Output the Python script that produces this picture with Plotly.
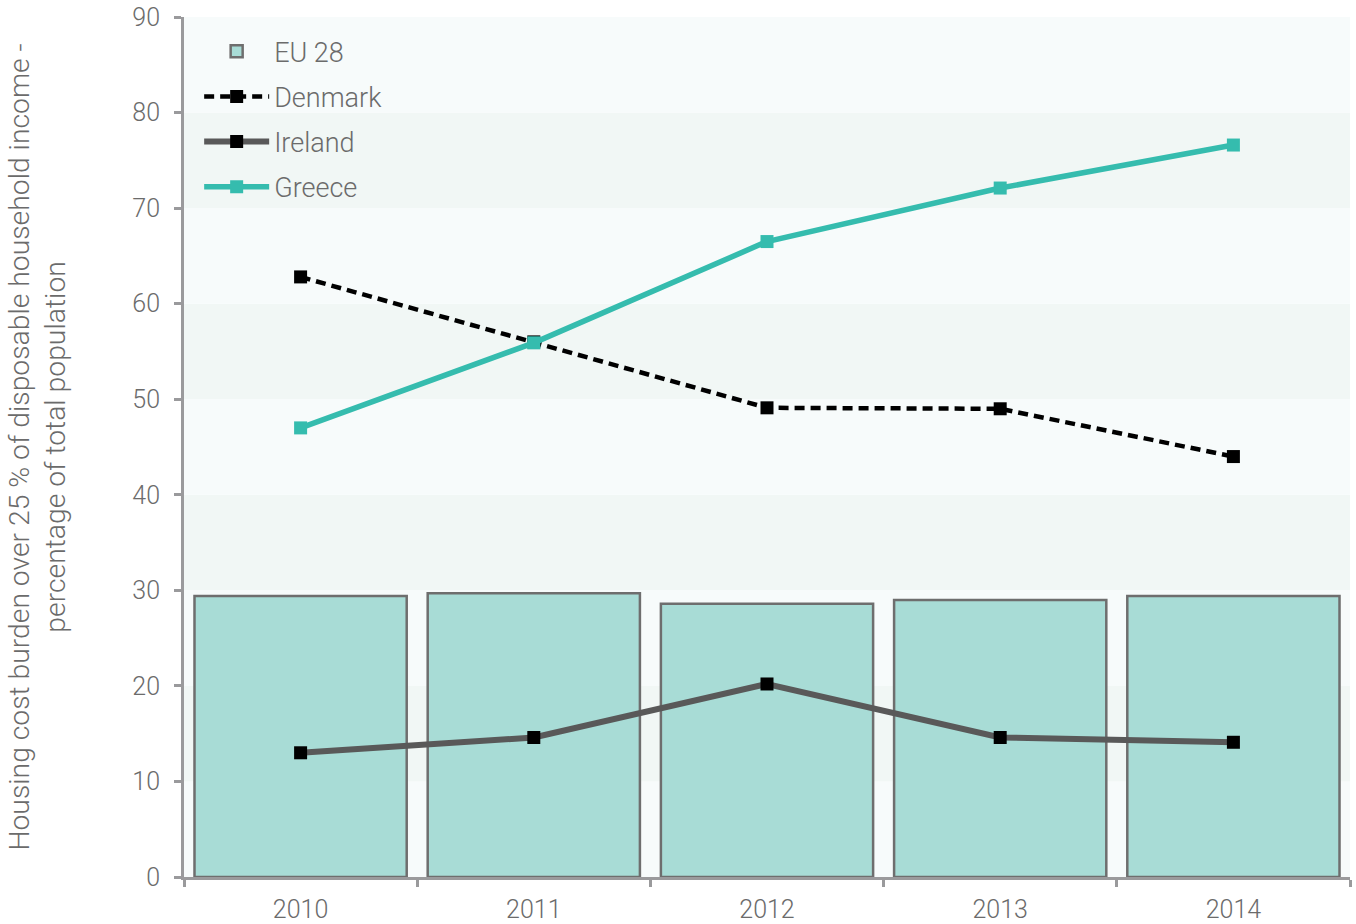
import plotly.graph_objects as go

years = ["2010", "2011", "2012", "2013", "2014"]
eu28 = [29.4, 29.7, 28.6, 29.0, 29.4]
denmark = [62.8, 56.0, 49.1, 49.0, 44.0]
ireland = [13.0, 14.6, 20.2, 14.6, 14.1]
greece = [47.0, 55.9, 66.5, 72.1, 76.6]
y_ticks = [0, 10, 20, 30, 40, 50, 60, 70, 80, 90]
y_title = "Housing cost burden over 25 % of disposable household income -<br>percentage of total population"

FONT = "Roboto"
TXT = "#6b6b6b"
AX = "#9a9a9c"

fig = go.Figure()
fig.add_trace(go.Bar(
    x=years, y=eu28, name="EU 28", legendgroup="a",
    marker=dict(color="#a8dcd6", line=dict(color="#6e6e6e", width=2.5)),
))
fig.add_trace(go.Scatter(
    x=years, y=denmark, name="Denmark", mode="lines+markers", legendgroup="b",
    line=dict(color="#000000", width=4.5, dash="10px,6px"),
    marker=dict(symbol="square", size=13, color="#000000"),
))
fig.add_trace(go.Scatter(
    x=years, y=ireland, name="Ireland", mode="lines+markers", legendgroup="c",
    line=dict(color="#595959", width=6),
    marker=dict(symbol="square", size=13, color="#000000"),
))
fig.add_trace(go.Scatter(
    x=years, y=greece, name="Greece", mode="lines+markers", legendgroup="d",
    line=dict(color="#35bcae", width=5.5),
    marker=dict(symbol="square", size=13, color="#35bcae"),
))

shapes = []
for i in range(len(y_ticks) - 1):
    col = "#f7fbfb" if (len(y_ticks) - 2 - i) % 2 == 0 else "#f1f7f5"
    shapes.append(dict(type="rect", xref="paper", yref="y", x0=0, x1=1,
                       y0=y_ticks[i], y1=y_ticks[i + 1], fillcolor=col,
                       line=dict(width=0), layer="below"))

fig.update_layout(
    width=1356, height=924,
    margin=dict(l=184, r=6, t=17, b=47),
    paper_bgcolor="white", plot_bgcolor="white",
    shapes=shapes,
    bargap=0.09,
    font=dict(family=FONT, color=TXT, size=25, weight=300),
    showlegend=True,
    legend=dict(x=0.013, y=0.988, xanchor="left", yanchor="top",
                bgcolor="rgba(0,0,0,0)", font=dict(size=27, color=TXT, family=FONT, weight=300),
                itemwidth=65, tracegroupgap=7, traceorder="grouped"),
    xaxis=dict(type="category", showgrid=False, showline=True, linecolor=AX, linewidth=3,
               ticks="outside", tickson="boundaries", ticklen=7, tickwidth=3, tickcolor=AX,
               tickfont=dict(size=25, color=TXT), range=[-0.5, 4.5], automargin=False,
               ticklabelstandoff=8),
    yaxis=dict(range=[0, 90], tickvals=y_ticks, showgrid=False, zeroline=False,
               showline=True, linecolor=AX, linewidth=3, ticks="outside", ticklen=7,
               tickwidth=3, tickcolor=AX, tickfont=dict(size=25, color=TXT),
               automargin=False, ticklabelstandoff=9),
    annotations=[dict(text=y_title, textangle=-90, xref="paper", yref="paper",
                      x=-0.1256, y=0.5, xanchor="center", yanchor="middle",
                      showarrow=False, align="center",
                      font=dict(size=28.3, color=TXT, family=FONT, weight=300))],
)

fig.write_html("out.html", config={"displayModeBar": False},
               post_script="document.body.style.margin='0';document.body.style.overflow='hidden';")
